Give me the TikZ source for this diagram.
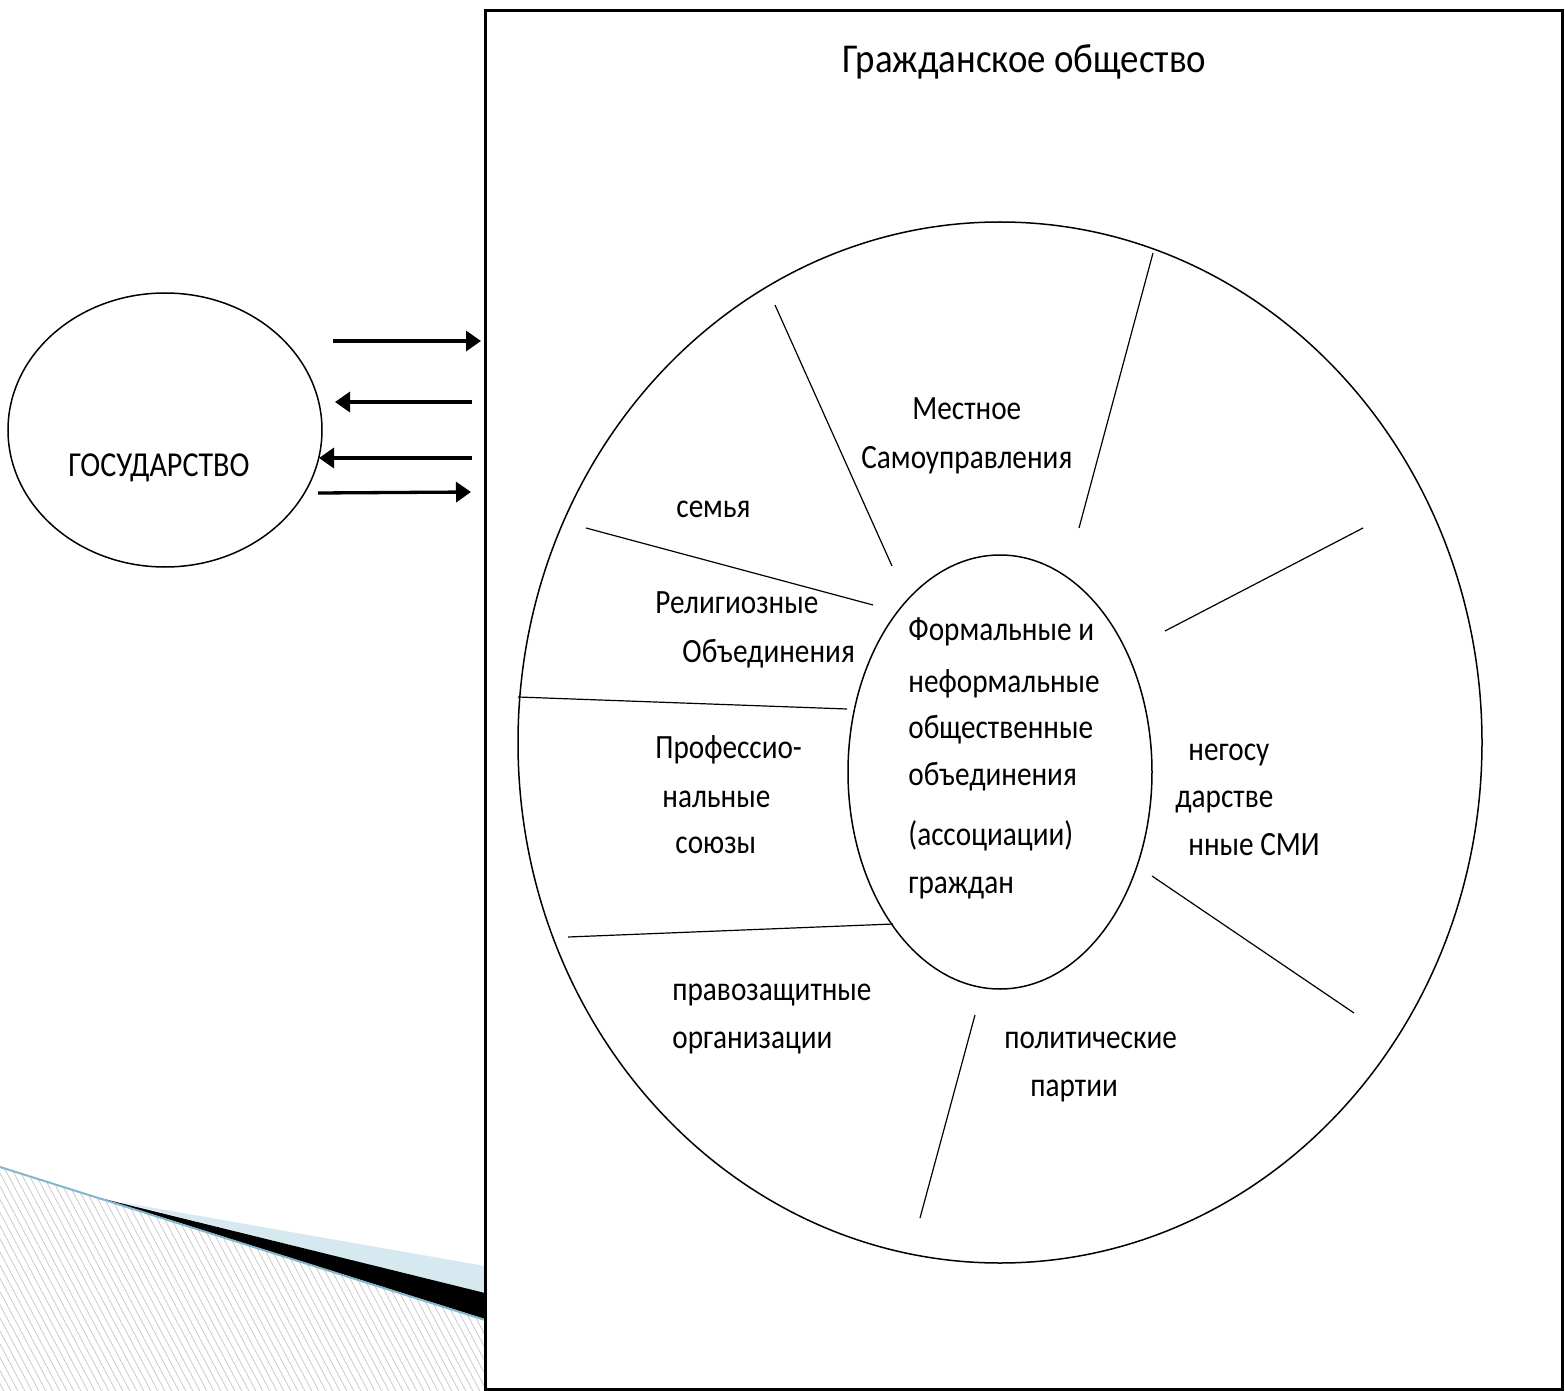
\documentclass[tikz,border=0pt]{standalone}
\usepackage{fontspec}
\setmainfont{Carlito}[FakeStretch=0.86]
\newfontfamily\titlefont{Carlito}[FakeStretch=0.9]
\usetikzlibrary{shapes.geometric,arrows.meta}
\definecolor{hatchgray}{HTML}{C4C4C4}
\definecolor{accentblue}{HTML}{86B6CE}
\definecolor{paleblue}{HTML}{D6E9F1}
\tikzset{
  txt/.style={anchor=base west, inner sep=0pt, font=\fontsize{17}{20}\selectfont},
  spoke/.style={line width=0.6pt},
  flow/.style={line width=1.65pt, -{Triangle[length=7.5pt,width=10pt]}},
  ring/.style={draw, ellipse, line width=0.75pt, inner sep=0pt}
}
\begin{document}
\begin{tikzpicture}[x=0.5pt,y=-0.5pt]
\useasboundingbox (0,0) rectangle (1565,1391);
% decorative corner
\begin{scope}
  \clip (0,1167) -- (485,1320) -- (485,1391) -- (0,1391) -- cycle;
  \foreach \i in {-140,-133,...,490} {
    \draw[hatchgray, line width=0.35pt] (\i,1160) -- ({\i+125},1395);
  }
\end{scope}
\fill[paleblue] (120,1202) -- (485,1266) -- (485,1294) -- cycle;
\fill[black] (100,1198) -- (485,1293) -- (485,1319) -- cycle;
\draw[accentblue, line width=1pt] (0,1167) -- (485,1320);
% main frame
\node[draw, line width=1.5pt, fill=white, minimum width=538.5pt, minimum height=689pt, inner sep=0pt] (frame) at (1023.5,700) {};
\node[anchor=base west, inner sep=0pt, font=\titlefont\fontsize{20.5}{24}\selectfont] (title) at (842,73) {Гражданское общество};
% state
\node[ring, minimum width=157pt, minimum height=137pt] (stateov) at (165,430) {};
\node[txt, font=\fontsize{17.5}{20}\selectfont] (statetxt) at (68,477) {ГОСУДАРСТВО};
% rings
\node[ring, minimum width=482pt, minimum height=520.5pt] (outer) at (1000,742.5) {};
\node[ring, minimum width=152pt, minimum height=217pt] (inner) at (1000,772) {};
% spokes
\coordinate (s1a) at (775,305);  \coordinate (s1b) at (892,566);
\coordinate (s2a) at (1153,253); \coordinate (s2b) at (1079,528);
\coordinate (s3a) at (1363,528); \coordinate (s3b) at (1165,631);
\coordinate (s4a) at (1152,876); \coordinate (s4b) at (1354,1013);
\coordinate (s5a) at (975,1015); \coordinate (s5b) at (920,1218);
\coordinate (s6a) at (568,937);  \coordinate (s6b) at (893,924);
\coordinate (s7a) at (518,697);  \coordinate (s7b) at (847,709);
\coordinate (s8a) at (586,528);  \coordinate (s8b) at (873,605);
\foreach \k in {1,...,8} { \draw[spoke] (s\k a) -- (s\k b); }
% arrows
\coordinate (a1s) at (333,341); \coordinate (a1e) at (481,341);
\coordinate (a2s) at (472,402); \coordinate (a2e) at (335,402);
\coordinate (a3s) at (472,458); \coordinate (a3e) at (319,458);
\coordinate (a4s) at (318,493); \coordinate (a4e) at (471,492);
\draw[flow] (a1s) -- (a1e);
\draw[flow] (a2s) -- (a2e);
\draw[flow] (a3s) -- (a3e);
\draw[flow] (a4s) -- (a4e);
% sector labels
\node[txt] (l1) at (912,420) {Местное};
\node[txt] (l2) at (861,468) {Самоуправления};
\node[txt] (l3) at (676,517) {семья};
\node[txt] (l4) at (655,613) {Религиозные};
\node[txt] (l5) at (682,662) {Объединения};
\node[txt] (l6) at (655,758) {Профессио-};
\node[txt] (l7) at (662,807) {нальные};
\node[txt] (l8) at (675,853) {союзы};
\node[txt] (c1) at (908,640) {Формальные и};
\node[txt] (c2) at (908,692) {неформальные};
\node[txt] (c3) at (908,738) {общественные};
\node[txt] (c4) at (908,785) {объединения};
\node[txt] (c5) at (908,845) {(ассоциации)};
\node[txt] (c6) at (908,893) {граждан};
\node[txt] (r1) at (1188,760) {негосу};
\node[txt] (r2) at (1175,807) {дарстве};
\node[txt] (r3) at (1188,855) {нные СМИ};
\node[txt] (b1) at (672,1000) {правозащитные};
\node[txt] (b2) at (672,1048) {организации};
\node[txt] (p1) at (1004,1048) {политические};
\node[txt] (p2) at (1030,1096) {партии};
\end{tikzpicture}
\end{document}
